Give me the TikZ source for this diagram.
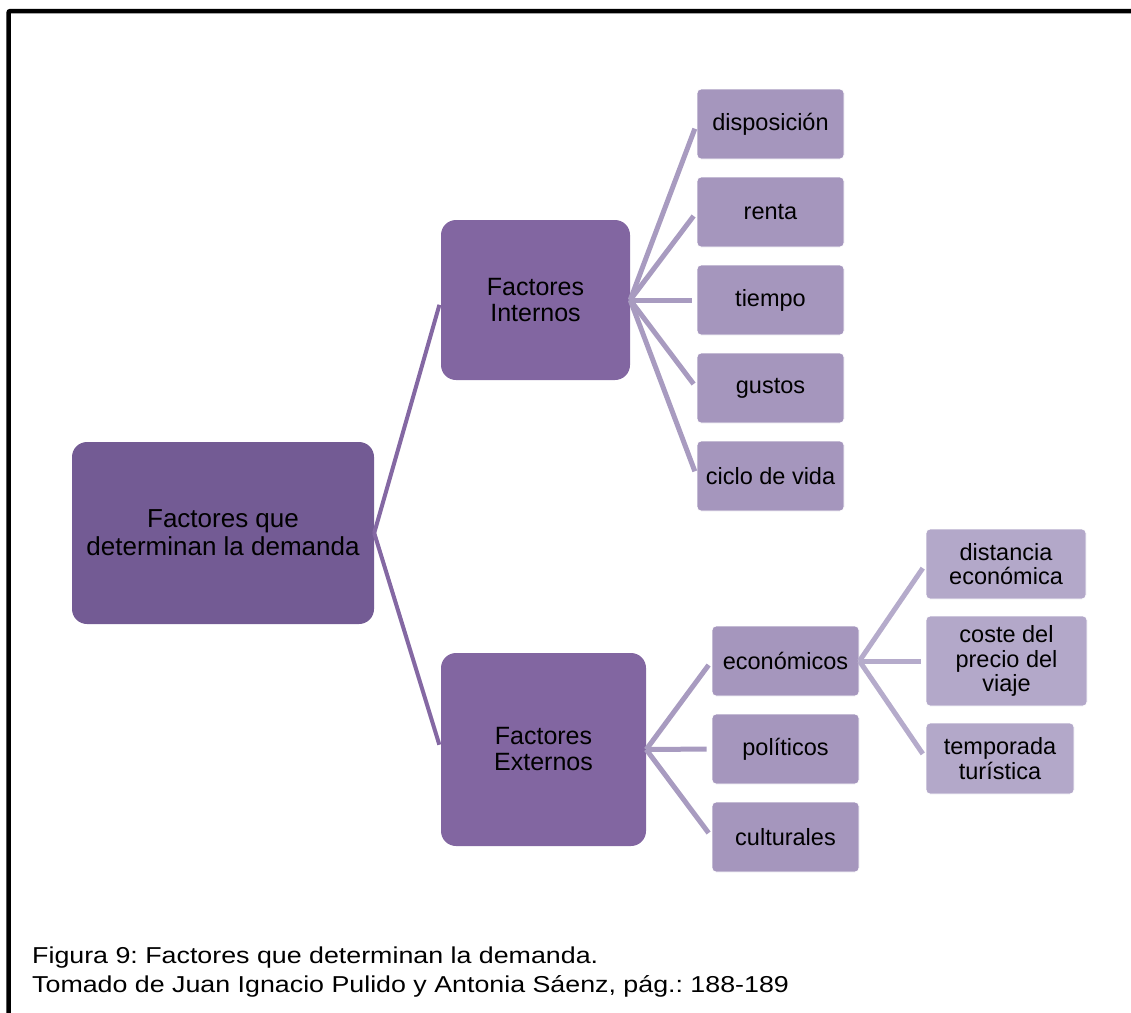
\documentclass[tikz,border=0pt]{standalone}
\usepackage{fontspec}
\setmainfont{Liberation Sans}
\newfontfamily\piefont{Liberation Sans}[FakeStretch=1.165]
\usetikzlibrary{calc}
\frenchspacing

\definecolor{raiz}{RGB}{115,91,148}
\definecolor{nivuno}{RGB}{130,102,161}
\definecolor{nivdos}{RGB}{165,150,189}
\definecolor{nivtres}{RGB}{179,168,201}
\definecolor{lineauno}{RGB}{132,104,163}
\definecolor{lineados}{RGB}{168,155,192}
\definecolor{lineatres}{RGB}{181,171,203}

\tikzset{
  cajaraiz/.style={fill=raiz, rounded corners=15pt, align=center,
    minimum width=302pt, minimum height=182pt, inner sep=0pt,
    font=\fontsize{26}{28}\selectfont},
  cajauno/.style={fill=nivuno, rounded corners=15pt, align=center,
    inner sep=0pt, font=\fontsize{25}{26}\selectfont},
  cajados/.style={fill=nivdos, draw=white, line width=0.8pt, rounded corners=4pt,
    align=center, minimum width=147pt, minimum height=70pt, inner sep=0pt,
    font=\fontsize{23.5}{24.5}\selectfont},
  cajatres/.style={fill=nivtres, draw=white, line width=0.8pt, rounded corners=4pt,
    align=center, minimum height=70pt, inner sep=0pt,
    font=\fontsize{23.5}{24.5}\selectfont},
  ramauno/.style={draw=lineauno, line width=4pt, shorten >=5pt},
  ramados/.style={draw=lineados, line width=5pt, shorten >=5pt},
  ramatres/.style={draw=lineatres, line width=5pt, shorten >=5pt},
}

\begin{document}
\begin{tikzpicture}[x=1pt,y=-1pt]
    \useasboundingbox (0,0) rectangle (1131,1012);

    % marco
    \draw[line width=4.5pt, rounded corners=2pt] (8.5,1014) -- (8.5,11) -- (1135,11);

    % raiz
    \node[cajaraiz] (dem) at (223,533) {Factores que\\determinan la demanda};

    % primer nivel
    \node[cajauno, minimum width=189pt, minimum height=160pt] (int) at (535.5,300) {Factores\\Internos};
    \node[cajauno, minimum width=205pt, minimum height=193pt] (ext) at (543.5,749.5) {Factores\\Externos};

    % factores internos
    \node[cajados] (disp) at (770.5,124) {disposición};
    \node[cajados] (rent) at (770.5,212) {renta};
    \node[cajados] (tiem) at (770.5,300) {tiempo};
    \node[cajados] (gust) at (770.5,388) {gustos};
    \node[cajados] (cicl) at (770.5,476) {ciclo de vida};

    % factores externos
    \node[cajados] (econ) at (785.5,661) {económicos};
    \node[cajados] (poli) at (785.5,749) {políticos};
    \node[cajados] (cult) at (785.5,837) {culturales};

    % economicos
    \node[cajatres, minimum width=160pt] (dist) at (1006,564) {distancia\\económica};
    \node[cajatres, minimum width=161pt, minimum height=90pt] (cost) at (1006.5,661) {coste del\\precio del\\viaje};
    \node[cajatres, minimum width=148pt, minimum height=71pt] (temp) at (1000,758.5) {temporada\\turística};

    % ramas
    \foreach \h in {int,ext}
        \draw[ramauno] (dem.east) -- (\h.west);
    \foreach \h in {disp,rent,tiem,gust,cicl}
        \draw[ramados] (int.east) -- (\h.west);
    \foreach \h in {econ,poli,cult}
        \draw[ramados] (ext.east) -- (\h.west);
    \foreach \h in {dist,cost}
        \draw[ramatres] (econ.east) -- (\h.west);
    \draw[ramatres] (econ.east) -- ($(temp.west)+(0,-0.5)$);

    % pie
    \node[anchor=base west, inner sep=0pt, font=\piefont\fontsize{23}{29.5}\selectfont, align=left] (pie) at (32,992.5)
        {Figura 9: Factores que determinan la demanda.\\Tomado de Juan Ignacio Pulido y Antonia Sáenz, pág.: 188-189};
\end{tikzpicture}
\end{document}
